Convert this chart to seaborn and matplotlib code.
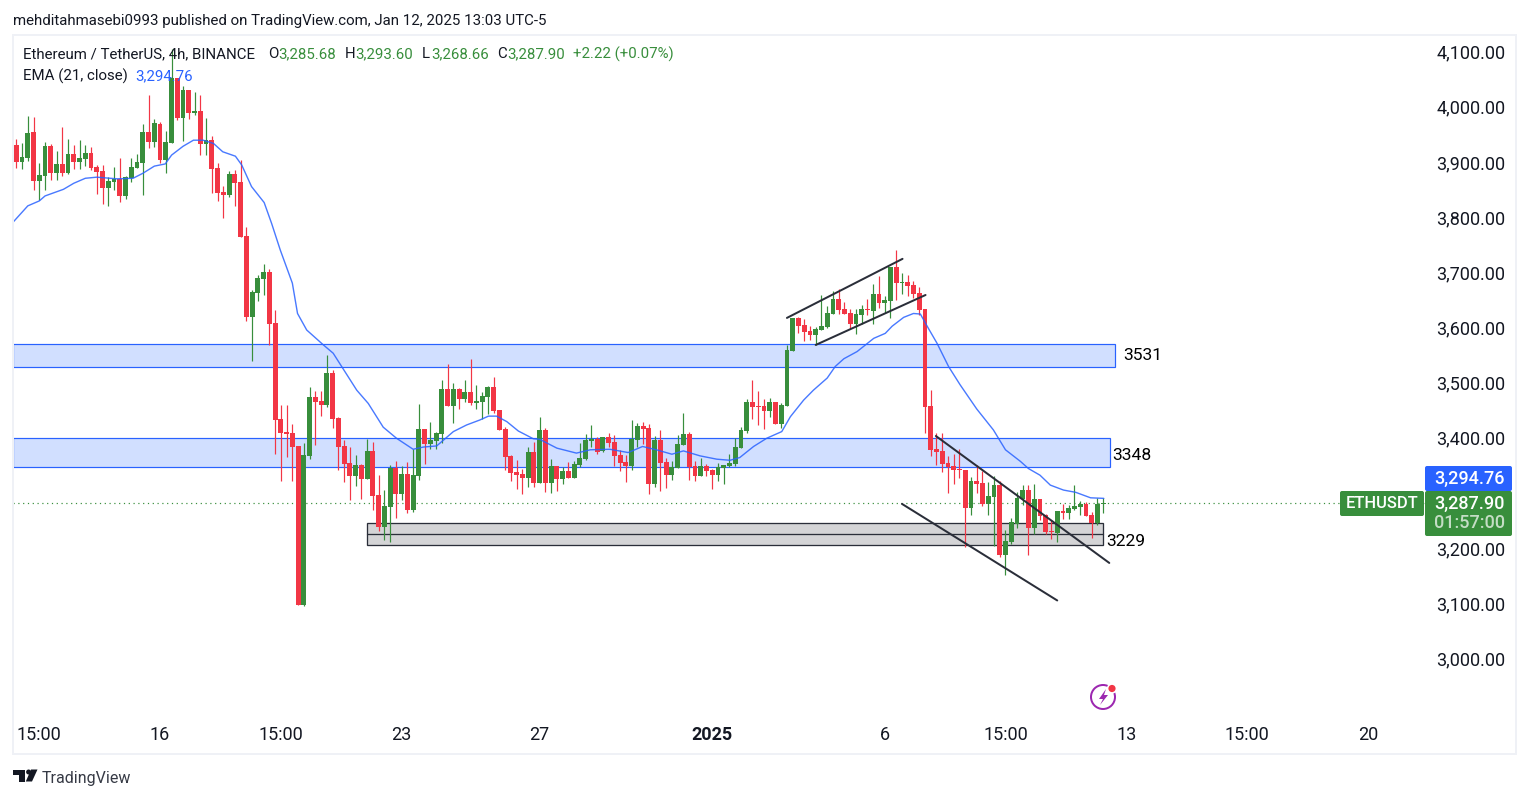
import numpy as np
import pandas as pd
import seaborn as sns
import matplotlib
matplotlib.use("Agg")
import matplotlib.pyplot as plt
from matplotlib.patches import Rectangle, FancyBboxPatch, Circle, Polygon
from matplotlib.transforms import ScaledTranslation

opens = [3933,3903,3910,3957,3868,3878,3931,3882,3899,3882,
         3917,3902,3908,3919,3893,3886,3855,3866,3872,3841,
         3873,3892,3901,3957,3939,3971,3906,3937,4055,3982,
         4033,3991,3995,3935,3942,3891,3848,3843,3881,3866,
         3768,3622,3665,3690,3703,3610,3437,3413,3411,3388,
         3100,3370,3477,3469,3462,3520,3439,3388,3357,3333,
         3353,3328,3379,3299,3241,3277,3348,3301,3337,3272,
         3333,3419,3391,3397,3410,3491,3460,3491,3473,3486,
         3466,3468,3477,3495,3453,3419,3370,3341,3337,3330,
         3377,3321,3417,3321,3352,3328,3343,3330,3353,3364,
         3397,3401,3379,3404,3395,3372,3359,3352,3399,3424,
         3420,3319,3399,3359,3335,3348,3390,3410,3352,3333,
         3352,3344,3335,3348,3352,3355,3384,3415,3468,3460,
         3460,3451,3468,3428,3460,3560,3620,3607,3596,3589,
         3598,3604,3627,3654,3636,3629,3609,3625,3636,3633,
         3663,3647,3651,3712,3683,3685,3680,3665,3636,3460,
         3382,3379,3357,3352,3346,3344,3276,3325,3321,3283,
         3296,3317,3190,3214,3247,3292,3308,3239,3292,3263,
         3234,3230,3270,3266,3274,3277,3283,3263,3248,3283]
closes = [3903,3911,3955,3868,3879,3931,3882,3899,3882,3917,
          3902,3910,3919,3892,3884,3855,3868,3872,3841,3875,
          3893,3902,3957,3939,3973,3906,3939,4055,3982,4033,
          3991,3995,3935,3942,3890,3846,3843,3881,3864,3766,
          3622,3667,3692,3703,3609,3435,3411,3410,3386,3100,
          3372,3477,3468,3462,3520,3437,3386,3355,3333,3353,
          3328,3379,3297,3241,3279,3348,3301,3337,3272,3335,
          3419,3391,3399,3411,3491,3460,3491,3473,3486,3466,
          3469,3478,3495,3451,3417,3368,3339,3335,3330,3377,
          3321,3417,3321,3352,3328,3343,3330,3355,3366,3399,
          3401,3377,3404,3393,3370,3357,3352,3401,3424,3419,
          3319,3399,3357,3335,3350,3391,3410,3350,3333,3352,
          3343,3335,3350,3353,3357,3386,3417,3468,3459,3459,
          3451,3468,3428,3462,3562,3620,3605,3595,3589,3600,
          3605,3629,3654,3634,3627,3609,3627,3636,3634,3663,
          3647,3652,3712,3683,3685,3678,3663,3634,3459,3381,
          3377,3355,3350,3344,3344,3276,3325,3319,3283,3297,
          3317,3190,3216,3250,3294,3308,3239,3292,3261,3232,
          3232,3270,3266,3276,3279,3283,3261,3248,3283,3285]
highs = [3944,3937,3986,3984,3900,3938,3935,3922,3966,3944,
         3933,3942,3933,3930,3897,3897,3875,3893,3910,3877,
         3910,3917,3971,4024,3980,3975,3959,4107,4055,4040,
         4033,4029,4024,3982,3950,3900,3859,3886,3888,3906,
         3785,3670,3698,3718,3708,3634,3462,3462,3428,3388,
         3393,3495,3488,3488,3553,3526,3440,3399,3386,3372,
         3355,3400,3395,3335,3308,3353,3361,3352,3359,3382,
         3464,3419,3431,3413,3507,3536,3502,3493,3507,3545,
         3498,3486,3497,3513,3453,3422,3371,3362,3346,3386,
         3395,3440,3420,3364,3352,3350,3359,3361,3393,3410,
         3426,3404,3404,3411,3408,3381,3372,3435,3430,3431,
         3428,3406,3417,3366,3361,3408,3448,3413,3361,3366,
         3355,3346,3357,3353,3373,3402,3422,3473,3507,3488,
         3473,3475,3468,3466,3571,3620,3622,3618,3605,3604,
         3662,3642,3669,3672,3649,3636,3636,3643,3654,3681,
         3696,3660,3712,3743,3701,3698,3687,3676,3636,3489,
         3411,3411,3370,3373,3382,3344,3332,3353,3343,3323,
         3334,3324,3236,3257,3305,3317,3317,3319,3292,3265,
         3254,3270,3283,3281,3317,3288,3286,3268,3294,3293.6]
lows = [3892,3890,3905,3852,3833,3852,3870,3870,3878,3881,
        3890,3890,3895,3888,3844,3826,3823,3852,3830,3835,
        3866,3891,3843,3928,3929,3901,3882,3937,3978,3940,
        3980,3987,3915,3915,3846,3832,3801,3839,3823,3766,
        3614,3541,3650,3661,3571,3373,3324,3368,3324,3100,
        3098,3364,3390,3442,3458,3420,3344,3323,3290,3315,
        3292,3328,3272,3234,3218,3214,3257,3290,3266,3268,
        3326,3355,3382,3382,3393,3460,3430,3455,3468,3462,
        3455,3437,3446,3448,3417,3344,3324,3310,3301,3314,
        3314,3321,3304,3303,3306,3319,3330,3330,3350,3362,
        3386,3373,3377,3386,3352,3343,3323,3344,3386,3391,
        3301,3313,3306,3312,3326,3348,3390,3326,3324,3333,
        3333,3310,3324,3319,3350,3352,3384,3411,3437,3426,
        3419,3440,3428,3420,3460,3560,3593,3578,3580,3571,
        3598,3601,3627,3627,3627,3600,3591,3609,3625,3609,
        3638,3629,3620,3652,3663,3660,3656,3625,3411,3370,
        3353,3341,3303,3319,3330,3205,3263,3303,3279,3263,
        3207,3187,3154,3210,3239,3281,3190,3228,3254,3228,
        3219,3214,3256,3256,3272,3263,3261,3221,3245,3266]

ema_bar = [-0.6,2,4,5,8.2,10,12,14,17.5,20.3,22,24,25.9,27,29,30.8,32.5,34.3,35.9,38.1,
           39.2,40.9,43.1,44.4,45.9,48,48.9,50.5,53.4,55.1,59.2,61.2,63.8,66.1,69,70.8,
           73.1,76,78.3,80.6,82.1,83.5,85.3,87.3,89.9,91,94,97.4,99.8,103.2,106.4,108.9,
           111.3,114,116,118.9,121.8,124.1,125.8,128.2,130.5,133.1,134.6,136.9,138.6,141,
           142.4,143.9,146.2,149.1,151.1,152.3,154.3,156,157.2,158.6,160.1,162.1,164.1,
           167,169.9,172,174.6,176,178,179.8,182.1,184.2,186.8,189.1]
ema_val = [3793,3823,3832,3841,3853,3864,3873,3875,3872,3873,3882,3895,3899,3915,3931,3942,3942,3936,3921,3913,
           3897,3858,3829,3791,3743,3683,3628,3598,3571,3556,3489,3465,3422,3402,3382,3386,
           3388,3414,3426,3435,3442,3442,3432,3415,3401,3400,3384,3375,3381,3382,3376,3387,
           3381,3373,3379,3370,3364,3362,3367,3387,3402,3414,3441,3471,3489,3511,
           3532,3546,3559,3583,3592,3605,3621,3628,3627,3601,3574,3532,3499,
           3455,3417,3381,3360,3347,3335,3317,3308,3304,3294,3293]

# zones
blue_zone_low = [3531, 3350]
blue_zone_high = [3573, 3402]
blue_zone_end = [191, 190.2]
blue_zone_names = ["3531", "3348"]
blue_label_bar = [192.55, 190.55]
blue_label_price = [3552, 3370.5]
grey_zone_low = 3208
grey_zone_mid = 3228
grey_zone_high = 3248
grey_zone_start = 61
grey_zone_end = 189
grey_zone_name = "3229"

trend_bar_a = [134, 139, 159.9, 154]
trend_bar_b = [154.1, 158.1, 190.05, 181]
trend_price_a = [3620, 3571, 3406, 3283]
trend_price_b = [3727, 3661.5, 3176, 3108]

price_ticks = [3000,3100,3200,3400,3500,3600,3700,3800,3900,4000,4100]
time_tick_bars = [4,25,46,67,91,121,151,172,193,214,235]
time_tick_labels = ["15:00","16","15:00","23","27","2025","6","15:00","13","15:00","20"]

UP, DOWN = "#388e3c", "#f23645"
BLUE = "#2962ff"
INK = "#131722"
LINE = "#2a2e39"

sns.set_theme(style="white")
plt.rcParams["font.family"] = ["Roboto", "DejaVu Sans"]

W, H = 1529, 798
fig = plt.figure(figsize=(W/100, H/100), dpi=100, facecolor="white")
def px(n):
    return n*0.72

# plot area in pixels
L, R, T, B = 13, 1425, 35, 716
ax = fig.add_axes([L/W, 1-B/H, (R-L)/W, (B-T)/H])
bar_x0, bar_step = 16.3, 5.751
price_at = lambda y: 4100-(y-53)*1.812
ax.set_xlim((L-bar_x0)/bar_step, (R-bar_x0)/bar_step)
ax.set_ylim(price_at(B), price_at(T))
ax.set_facecolor("white")
for s in ax.spines.values():
    s.set_visible(False)

df = pd.DataFrame({"bar": np.arange(len(opens)), "open": opens, "close": closes, "high": highs, "low": lows})
df["color"] = np.where(df.close >= df.open, UP, DOWN)

# zones
for lo, hi, end in zip(blue_zone_low, blue_zone_high, blue_zone_end):
    ax.add_patch(Rectangle((ax.get_xlim()[0], lo), end-ax.get_xlim()[0], hi-lo, facecolor="#d1dfff",
                           edgecolor=BLUE, lw=px(1.2), zorder=1))
ax.add_patch(Rectangle((grey_zone_start, grey_zone_low), grey_zone_end-grey_zone_start,
                       grey_zone_high-grey_zone_low, facecolor="#d4d4d6", edgecolor=LINE, lw=px(1.3), zorder=1))
ax.plot([grey_zone_start, grey_zone_end], [grey_zone_mid]*2, color=LINE, lw=px(1.3), zorder=1.1)

# last price
ax.axhline(closes[-1], color=UP, lw=px(1.2), ls=(0, (1, 3)), zorder=1.5)

# candles
ax.vlines(df.bar, df.low, df.high, colors=df.color, lw=px(1.2), zorder=3)
ax.bar(df.bar, (df.close-df.open).abs().clip(lower=1.2), bottom=df[["open", "close"]].min(axis=1),
       width=0.84, color=df.color, linewidth=0, zorder=3)

# EMA
sns.lineplot(x=ema_bar, y=ema_val, ax=ax, color=BLUE, lw=px(1.4), zorder=4, alpha=0.85, sort=False, legend=False)

# trend lines
for a, b, pa, pb in zip(trend_bar_a, trend_bar_b, trend_price_a, trend_price_b):
    ax.plot([a, b], [pa, pb], color=LINE, lw=px(2), zorder=5, solid_capstyle="round")

ax.set_xticks(time_tick_bars)
ax.set_xticklabels(time_tick_labels)
ax.set_yticks(price_ticks)
ax.set_yticklabels([f"{p:,.2f}" for p in price_ticks])
ax.yaxis.tick_right()
ax.tick_params(axis="x", length=0, pad=px(10), labelsize=px(18), labelcolor=INK)
ax.tick_params(axis="y", length=0, pad=px(80.5), labelsize=px(18), labelcolor=INK)
lift = ScaledTranslation(0, 1.5/100, fig.dpi_scale_trans)
for tick in ax.yaxis.get_major_ticks():
    lab = tick.label2
    lab.set_ha("right")
    lab.set_va("center_baseline")
    lab.set_transform(lab.get_transform() + lift)
for t_ in ax.get_xticklabels():
    if t_.get_text() == "2025":
        t_.set_fontweight("bold")
ax.set_xlabel("")
ax.set_ylabel("")

# zone labels
for bx, py, name in zip(blue_label_bar, blue_label_price, blue_zone_names):
    ax.text(bx, py, name, fontsize=px(17.5), color="black", va="center", ha="left", zorder=6)
ax.text(grey_zone_end+0.45, grey_zone_low+6, grey_zone_name, fontsize=px(17.5), color="black", va="center", ha="left", zorder=6)

# screenshot chrome in pixel coordinates
ov = fig.add_axes([0, 0, 1, 1], facecolor="none")
ov.set_xlim(0, W); ov.set_ylim(H, 0); ov.axis("off")
ov.add_patch(Rectangle((12.5, 34.5), 1503, 719, fill=False, edgecolor="#eff1f6", lw=px(2)))

def t(x, y, s, color=INK, size=15, **kw):
    kw.setdefault("va", "center")
    return ov.text(x, y, s, color=color, fontsize=px(size), **kw)

t(13, 20.5, "mehditahmasebi0993 published on TradingView.com, Jan 12, 2025 13:03 UTC-5")
t(23, 54, "Ethereum / TetherUS, 4h, BINANCE")
for x, s in [(268, "O"), (345, "H"), (422, "L"), (497, "C")]:
    t(x, 54, s)
for x, s in [(278, "3,285.68"), (355, "3,293.60"), (431, "3,268.66"), (507, "3,287.90"), (573, "+2.22 (+0.07%)")]:
    t(x, 54, s, color=UP)
t(23, 76.5, "EMA (21, close)")
t(135, 76.5, "3,294.76", color=BLUE)
t(42, 778, "TradingView", color="#363a45", size=16)

# price badges
def box(x, y, w, h, c):
    ov.add_patch(FancyBboxPatch((x+1, y+1), w-2, h-2, boxstyle="round,pad=1,rounding_size=2", fc=c, ec="none"))
box(1425, 466, 87, 25, BLUE)
box(1425, 491, 87, 45, UP)
box(1340, 491, 84, 25, UP)
t(1505, 478.5, "3,294.76", color="white", size=18, ha="right", fontweight="medium")
t(1505, 503.5, "3,287.90", color="white", size=18, ha="right", fontweight="medium")
t(1505, 522.5, "01:57:00", color="#c4ddc5", size=18, ha="right", fontweight="medium")
t(1382, 503.5, "ETHUSDT", color="white", size=16.5, ha="center", fontweight="medium")

# TradingView logo
logo = "#131722"
ov.add_patch(Polygon([(13.3, 769.5), (25.3, 769.5), (25.3, 781.5), (19.3, 781.5), (19.3, 775), (13.3, 775)], fc=logo, ec="none"))
ov.add_patch(Circle((28.6, 772), 2.5, fc=logo, ec="none"))
ov.add_patch(Polygon([(31, 769.5), (37.5, 769.5), (32, 781.5), (25.8, 781.5)], fc=logo, ec="none"))

# spark icon
PURPLE = "#9c27b0"
ov.add_patch(Circle((1103, 697), 12, fill=False, ec=PURPLE, lw=px(2)))
ov.add_patch(Polygon([(1106, 689), (1099, 699), (1103, 699), (1100, 705), (1108, 695), (1104, 695)], fc=PURPLE, ec="none"))
ov.add_patch(Circle((1112, 688.5), 5.2, fc="white", ec="none"))
ov.add_patch(Circle((1112, 688.5), 3.6, fc=DOWN, ec="none"))

fig.savefig("out.png", dpi=100)
